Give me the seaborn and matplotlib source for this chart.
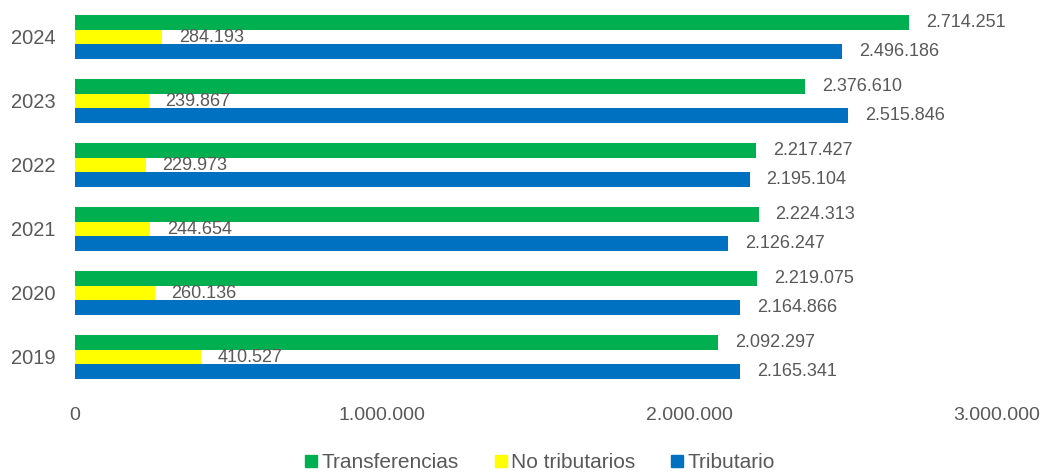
import matplotlib
matplotlib.use("Agg")
import matplotlib.pyplot as plt
import seaborn as sns
import pandas as pd

years = ["2024", "2023", "2022", "2021", "2020", "2019"]
transferencias = [2714251, 2376610, 2217427, 2224313, 2219075, 2092297]
no_tributarios = [284193, 239867, 229973, 244654, 260136, 410527]
tributario = [2496186, 2515846, 2195104, 2126247, 2164866, 2165341]
series_names = ["Transferencias", "No tributarios", "Tributario"]
colors = ["#00B050", "#FFFF00", "#0070C0"]
xticks = [0, 1000000, 2000000, 3000000]

rows = []
for name, vals in zip(series_names, [transferencias, no_tributarios, tributario]):
    for y, v in zip(years, vals):
        rows.append({"year": y, "serie": name, "value": v})
df = pd.DataFrame(rows)

sns.set_style("white")
plt.rcParams["font.family"] = ["Liberation Sans", "DejaVu Sans"]
text_color = "#595959"

fig = plt.figure(figsize=(10.47, 4.74), dpi=100)
ax = fig.add_axes([75/1047, 1-389/474, (997-75)/1047, 384/474])

sns.barplot(data=df, x="value", y="year", hue="serie", order=years,
            hue_order=series_names, palette=colors, orient="h",
            width=0.68, gap=0, saturation=1, linewidth=0, ax=ax, legend=False)

def fmt(v):
    return f"{int(v):,}".replace(",", ".")

for cont in ax.containers:
    ax.bar_label(cont, labels=[fmt(b.get_width()) for b in cont], padding=12,
                 fontsize=13, color=text_color)

ax.set_xlim(0, 3000000)
ax.set_ylim(5.5, -0.5)
ax.set_xticks(xticks)
ax.set_xticklabels([fmt(t) for t in xticks], fontsize=14, color=text_color)
ax.tick_params(axis="x", pad=13, length=0)
ax.tick_params(axis="y", length=0, pad=14, labelsize=14.5, labelcolor=text_color)
ax.set_xlabel("")
ax.set_ylabel("")
for s in ax.spines.values():
    s.set_visible(False)
ax.grid(False)

from matplotlib.lines import Line2D
handles = [Line2D([], [], marker="s", linestyle="", markersize=8, color=c) for c in colors]
leg = fig.legend(handles, series_names, loc="center", bbox_to_anchor=(539/1047, 1-463/474),
                 ncol=3, frameon=False, fontsize=15, handletextpad=0.1, columnspacing=1.6,
                 handlelength=0.8)
for t in leg.get_texts():
    t.set_color(text_color)

fig.savefig("out.png", dpi=100)
